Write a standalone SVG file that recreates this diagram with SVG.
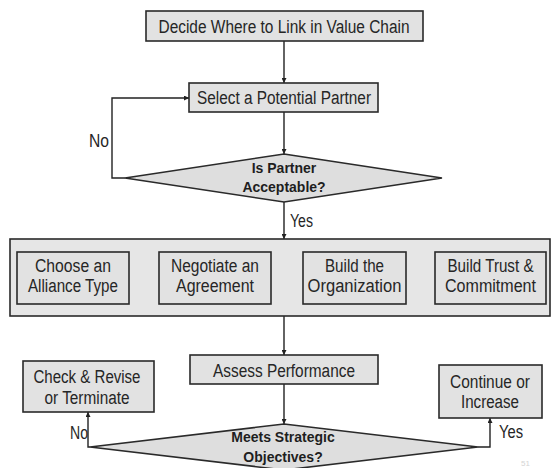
<svg xmlns="http://www.w3.org/2000/svg" width="551" height="468" viewBox="0 0 551 468">
  <defs>
    <marker id="arrow" viewBox="0 0 8 8" refX="8" refY="4" markerWidth="5" markerHeight="5" orient="auto" markerUnits="userSpaceOnUse">
      <path d="M0,0 L8,4 L0,8 Z" fill="#222"/>
    </marker>
    <style>
      .box { fill: #e2e2e2; stroke: #2a2a2a; stroke-width: 1.6; }
      .frame { fill: #e6e6e6; stroke: #2a2a2a; stroke-width: 1.6; }
      .dia { fill: #dedede; stroke: #2a2a2a; stroke-width: 1.6; }
      .t { font-family: "Liberation Sans", Arial, sans-serif; font-size: 18px; fill: #262626; text-anchor: middle; }
      .lbl { font-family: "Liberation Sans", Arial, sans-serif; font-size: 18px; fill: #262626; }
      .b { font-family: "Liberation Sans", Arial, sans-serif; font-size: 14px; font-weight: bold; fill: #1e1e1e; text-anchor: middle; }
      .c { fill: none; stroke: #222; stroke-width: 1.4; }
    </style>
  </defs>

  <rect width="551" height="468" fill="#ffffff"/>

  <!-- Connectors -->
  <g id="connectors">
    <line class="c" x1="284" y1="41" x2="284" y2="83" marker-end="url(#arrow)"/>
    <line class="c" x1="284" y1="112" x2="284" y2="154" marker-end="url(#arrow)"/>
    <polyline class="c" points="125,178 112,178 112,98 189,98" marker-end="url(#arrow)"/>
    <line class="c" x1="284" y1="202" x2="284" y2="239" marker-end="url(#arrow)"/>
    <line class="c" x1="129" y1="278" x2="159" y2="278" marker-end="url(#arrow)"/>
    <line class="c" x1="271" y1="278" x2="303" y2="278" marker-end="url(#arrow)"/>
    <line class="c" x1="406" y1="278" x2="435" y2="278" marker-end="url(#arrow)"/>
    <line class="c" x1="284" y1="316" x2="284" y2="355" marker-end="url(#arrow)"/>
    <line class="c" x1="284" y1="384" x2="284" y2="424" marker-end="url(#arrow)"/>
    <polyline class="c" points="90,447 88,447 88,412" marker-end="url(#arrow)"/>
    <polyline class="c" points="478,447 490,447 490,418" marker-end="url(#arrow)"/>
    <text class="lbl" x="89" y="147" textLength="20" lengthAdjust="spacingAndGlyphs">No</text>
    <text class="lbl" x="290" y="227" textLength="23" lengthAdjust="spacingAndGlyphs">Yes</text>
    <text class="lbl" x="70" y="439" textLength="18" lengthAdjust="spacingAndGlyphs">No</text>
    <text class="lbl" x="499" y="438" textLength="24" lengthAdjust="spacingAndGlyphs">Yes</text>
  </g>

  <g id="decide-link">
    <rect class="box" x="146" y="11" width="277" height="30"/>
    <text class="t" x="284" y="33" textLength="251" lengthAdjust="spacingAndGlyphs">Decide Where to Link in Value Chain</text>
  </g>

  <g id="select-partner">
    <rect class="box" x="189" y="83" width="189" height="29"/>
    <text class="t" x="284" y="104" textLength="174" lengthAdjust="spacingAndGlyphs">Select a Potential Partner</text>
  </g>

  <g id="partner-acceptable">
    <polygon class="dia" points="284,154 442,178 284,202 125,178"/>
    <text class="b" x="284" y="173">Is Partner</text>
    <text class="b" x="284" y="192">Acceptable?</text>
  </g>

  <g id="alliance-stage">
    <rect class="frame" x="10" y="239" width="540" height="77"/>
  </g>

  <g id="choose-type">
    <rect class="box" x="17" y="252" width="112" height="52"/>
    <text class="t" x="73" y="272" textLength="76" lengthAdjust="spacingAndGlyphs">Choose an</text>
    <text class="t" x="73" y="292" textLength="90" lengthAdjust="spacingAndGlyphs">Alliance Type</text>
  </g>

  <g id="negotiate">
    <rect class="box" x="159" y="252" width="112" height="52"/>
    <text class="t" x="215" y="272" textLength="88" lengthAdjust="spacingAndGlyphs">Negotiate an</text>
    <text class="t" x="215" y="292" textLength="78" lengthAdjust="spacingAndGlyphs">Agreement</text>
  </g>

  <g id="build-organization">
    <rect class="box" x="303" y="252" width="103" height="52"/>
    <text class="t" x="354.5" y="272" textLength="59" lengthAdjust="spacingAndGlyphs">Build the</text>
    <text class="t" x="354.5" y="292" textLength="94" lengthAdjust="spacingAndGlyphs">Organization</text>
  </g>

  <g id="build-trust">
    <rect class="box" x="435" y="252" width="111" height="52"/>
    <text class="t" x="490.5" y="272" textLength="86" lengthAdjust="spacingAndGlyphs">Build Trust &amp;</text>
    <text class="t" x="490.5" y="292" textLength="91" lengthAdjust="spacingAndGlyphs">Commitment</text>
  </g>

  <g id="assess-performance">
    <rect class="box" x="190" y="355" width="188" height="29"/>
    <text class="t" x="284" y="377" textLength="142" lengthAdjust="spacingAndGlyphs">Assess Performance</text>
  </g>

  <g id="check-revise">
    <rect class="box" x="23" y="361" width="131" height="51"/>
    <text class="t" x="87" y="383" textLength="107" lengthAdjust="spacingAndGlyphs">Check &amp; Revise</text>
    <text class="t" x="87" y="404" textLength="85" lengthAdjust="spacingAndGlyphs">or Terminate</text>
  </g>

  <g id="continue-increase">
    <rect class="box" x="439" y="365" width="103" height="53"/>
    <text class="t" x="490" y="388" textLength="80" lengthAdjust="spacingAndGlyphs">Continue or</text>
    <text class="t" x="490" y="408" textLength="58" lengthAdjust="spacingAndGlyphs">Increase</text>
  </g>

  <g id="meets-objectives">
    <polygon class="dia" points="284,424 478,447 284,470 90,447"/>
    <text class="b" x="283" y="442">Meets Strategic</text>
    <text class="b" x="283" y="462">Objectives?</text>
  </g>

  <text x="521" y="466" font-family="Liberation Sans, Arial, sans-serif" font-size="8" fill="#d4d4d4">51</text>
</svg>
